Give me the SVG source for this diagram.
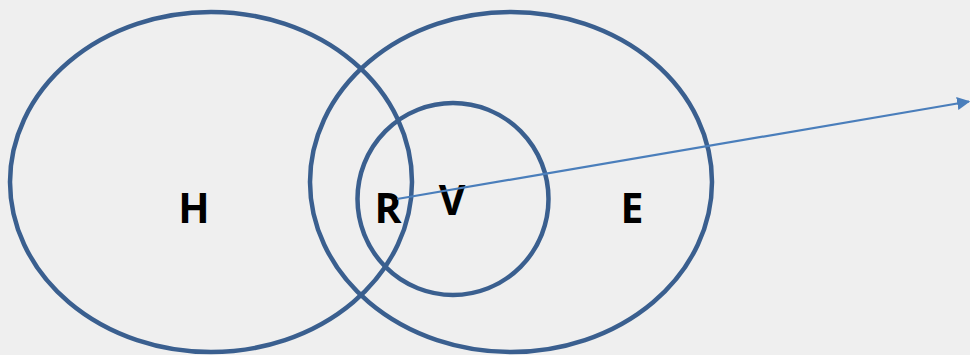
<svg xmlns="http://www.w3.org/2000/svg" width="970" height="355" viewBox="0 0 970 355">
<defs>
<style>
.set{fill:none;stroke:#3a5f8f;stroke-width:4.5}
.lbl{font-family:"Open Sans","Liberation Sans",sans-serif;font-weight:bold;font-size:41px;fill:#000;text-anchor:middle}
.conn{stroke:#4a7ebb;stroke-width:2.2;fill:none}
</style>
<marker id="ah" viewBox="0 0 10 10" refX="9" refY="5" markerWidth="6" markerHeight="6" markerUnits="strokeWidth" orient="auto">
<path d="M0,0 L10,5 L0,10 z" fill="#4a7ebb"/>
</marker>
</defs>
<rect width="970" height="355" fill="#efefef"/>
<g id="H">
<ellipse class="set" cx="211" cy="182" rx="201" ry="170"/>
<text class="lbl" x="194" y="223">H</text>
</g>
<g id="E">
<ellipse class="set" cx="511" cy="182" rx="201" ry="170"/>
<text class="lbl" x="632" y="223">E</text>
</g>
<g id="V">
<ellipse class="set" cx="453" cy="199" rx="95.5" ry="96"/>
<text class="lbl" x="452" y="215">V</text>
</g>
<g id="R">
<text class="lbl" x="388" y="223">R</text>
</g>
<g id="connectors">
<line class="conn" x1="397" y1="199" x2="969" y2="101.5" marker-end="url(#ah)"/>
</g>
</svg>
